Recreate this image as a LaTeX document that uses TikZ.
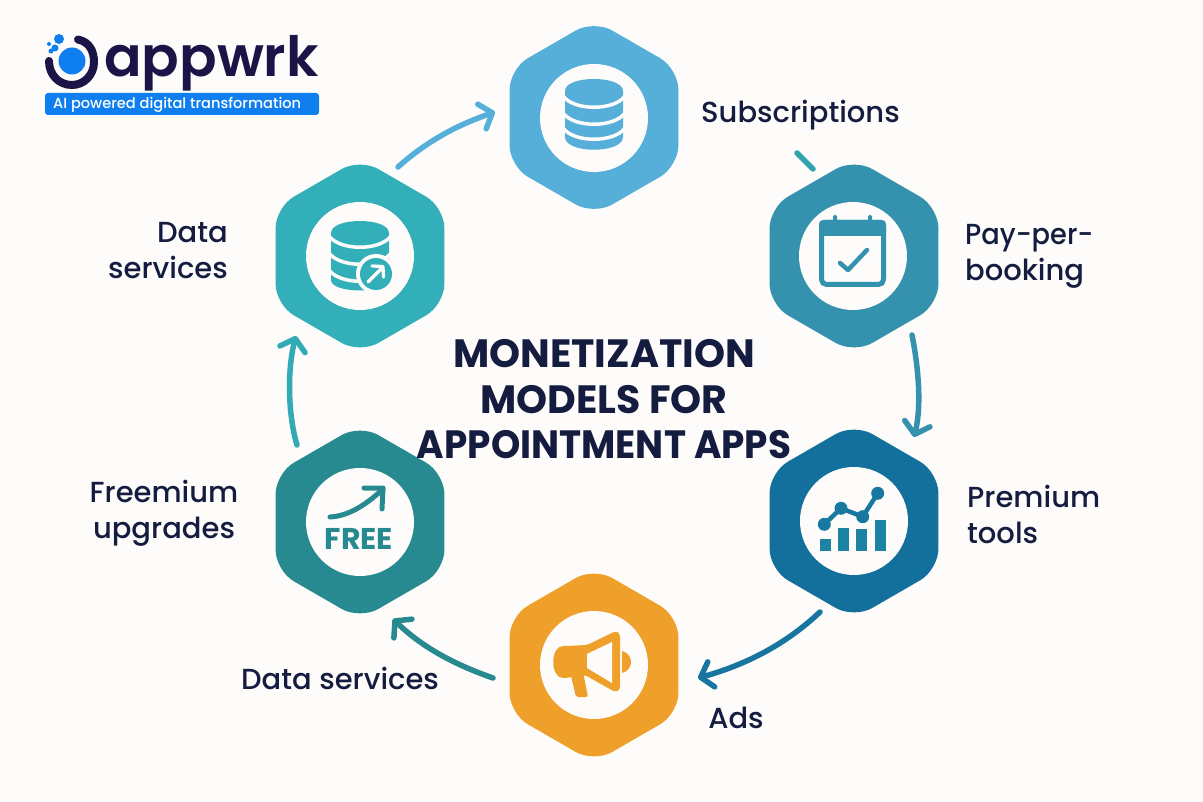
\documentclass[tikz,border=0pt]{standalone}
\usepackage{fontspec}
\setmainfont{Poppins}[UprightFont=* Medium,BoldFont=* Bold]
\newfontfamily\logofont{Poppins}[UprightFont=* SemiBold]
\usetikzlibrary{shapes.geometric,arrows.meta}
\definecolor{bgc}{HTML}{FDFCFA}
\definecolor{ink}{HTML}{141C3F}
\definecolor{cSub}{HTML}{55AFD9}
\definecolor{cPay}{HTML}{3592AE}
\definecolor{cPrem}{HTML}{13709C}
\definecolor{cAds}{HTML}{EFA02B}
\definecolor{cFree}{HTML}{288A91}
\definecolor{cData}{HTML}{33AFB9}
\definecolor{logoNavy}{HTML}{1B1447}
\definecolor{logoBlue}{HTML}{0F7FF0}
\tikzset{
  x=1pt,y=-1pt,
  hexa/.style={regular polygon,regular polygon sides=6,shape border rotate=30,minimum size=195pt,inner sep=0pt,outer sep=0pt,rounded corners=21pt,draw=none},
  disc/.style={circle,fill=bgc,minimum size=108pt,inner sep=0pt,outer sep=0pt,draw=none},
  lbl/.style={text=ink,font=\fontsize{29}{36}\selectfont,inner sep=0pt},
  ttl/.style={text=ink,font=\fontsize{39.5}{45.5}\bfseries\selectfont,inner sep=0pt,align=center},
  conn/.style={line width=5.5pt,line cap=round,line join=round,-{Straight Barb[round,length=11pt,width=26pt,line width=5.5pt]}},
  iconline/.style={line width=5pt,line cap=round,line join=round},
}
\begin{document}
\begin{tikzpicture}
\useasboundingbox (0,0) rectangle (1203,802);
\fill[bgc] (0,0) rectangle (1203,802);
% hexagons
\node[hexa,fill=cSub]  (sub)  at (594,117.5) {};
\node[hexa,fill=cPay]  (pay)  at (854,256) {};
\node[hexa,fill=cPrem] (prem) at (854,521) {};
\node[hexa,fill=cAds]  (ads)  at (594,665) {};
\node[hexa,fill=cFree] (free) at (360,522) {};
\node[hexa,fill=cData] (data) at (360,256) {};
\node[disc] (dsub)  at (594,118) {};
\node[disc] (dpay)  at (853,256) {};
\node[disc] (dprem) at (854,521) {};
\node[disc] (dads)  at (594,665) {};
\node[disc] (dfree) at (360,522) {};
\node[disc] (ddata) at (360,256) {};
% connectors
\coordinate (a1) at (398,167); \coordinate (a2) at (495,112);
\coordinate (t1) at (797,153); \coordinate (t2) at (813,169);
\coordinate (b1) at (912,335); \coordinate (b2) at (914,437);
\coordinate (c1) at (820,612); \coordinate (c2) at (698,678);
\coordinate (d1) at (493,678); \coordinate (d2) at (393,619);
\coordinate (e1) at (297,445); \coordinate (e2) at (296,336);
\draw[conn,color=cSub] (a1) .. controls (428,140) and (460,124) .. (a2);
\draw[line width=5.5pt,line cap=round,color=cData!70!cFree] (t1) -- (t2);
\draw[conn,color=cPay] (b1) .. controls (918,365) and (922,405) .. (b2);
\draw[conn,color=cPrem!85!cPay] (c1) .. controls (785,645) and (745,665) .. (c2);
\draw[conn,color=cFree] (d1) .. controls (450,663) and (420,645) .. (d2);
\draw[conn,color=cData!85!cPay] (e1) .. controls (288,415) and (287,370) .. (e2);
% database icon top
\begin{scope}[shift={(594,118)}]
  \fill[cSub] (-29,-27) -- (-29,19) .. controls (-29,36) and (29,36) .. (29,19) -- (29,-27) .. controls (29,-43) and (-29,-43) .. (-29,-27) -- cycle;
  \foreach \yy in {-22,-5,10}{
    \draw[bgc,line width=3.5pt] (-31,\yy) .. controls (-20,\yy+15) and (20,\yy+15) .. (31,\yy);
  }
\end{scope}
% database icon data services
\begin{scope}[shift={(360,256)}]
  \fill[cData] (-29,-23) -- (-29,24) .. controls (-29,38) and (29,38) .. (29,24) -- (29,-23) .. controls (29,-39) and (-29,-39) .. (-29,-23) -- cycle;
  \foreach \yy in {-20,-3,14}{
    \draw[bgc,line width=3.5pt] (-31,\yy) .. controls (-20,\yy+15) and (20,\yy+15) .. (31,\yy);
  }
  \fill[bgc] (16,18) circle[radius=20pt];
  \fill[cData] (16,18) circle[radius=16pt];
  \draw[bgc,line width=3.2pt,line cap=round,line join=round] (8,26) -- (23,11) (12,10) -- (23,10.5) -- (23.5,21);
\end{scope}
% calendar
\fill[cPay,rounded corners=1.5pt] (833,215) rectangle (837,226);
\fill[cPay,rounded corners=1.5pt] (868,215) rectangle (872,226);
\draw[cPay,line width=5pt,rounded corners=5pt] (821.5,222.5) rectangle (883.5,284.5);
\fill[cPay,rounded corners=4pt] (819,220) -- (886,220) -- (886,236) -- (819,236) -- cycle;
\draw[iconline,cPay,line width=4.5pt] (840,263) -- (848,270) -- (867,250);
% chart
\fill[cPrem!70!cData] (820,539) rectangle (830.7,550.7);
\fill[cPrem!70!cData] (837.7,528) rectangle (849,550.7);
\fill[cPrem!70!cData] (856,529) rectangle (867.3,550.7);
\fill[cPrem!70!cData] (875,520) rectangle (885.7,550.7);
\draw[cPrem!85!cData,line width=4.5pt,line join=round] (824.3,524.3) -- (841,508.3) -- (862.7,516.7) -- (877.7,493.3);
\foreach \px/\py in {824.3/524.3,841/508.3,862.7/516.7,877.7/493.3}{
  \fill[cPrem!85!cData] (\px,\py) circle[radius=6.5pt];
}
% megaphone
\fill[cAds,rounded corners=2pt] (571,676) -- (576,697) -- (588,697) -- (583,672) -- cycle;
\fill[cAds,rounded corners=3pt] (616,631) -- (620,634) -- (620,690) -- (615,692) -- (585,675) -- (566,678)
  .. controls (550,678) and (550,646) .. (566,646) -- (587,645) -- cycle;
\fill[bgc] (587,654) -- (612,642) -- (612,683) -- (587,668) -- cycle;
\fill[cAds] (622,651) .. controls (634,654) and (634,670) .. (622,673) -- cycle;
% FREE
\node[text=cFree,font=\fontsize{30}{30}\bfseries\selectfont,inner sep=0pt] (freetxt) at (359,538.5) {FREE};
\coordinate (f1) at (330,517); \coordinate (f2) at (383,489);
\draw[iconline,cFree] (f1) .. controls (350,516) and (368,503) .. (f2);
\draw[iconline,cFree] (364,488) -- (383,488) -- (382,509);
% labels
\node[lbl,anchor=west] (lsub) at (701,115) {Subscriptions};
\node[lbl,align=left,anchor=north west] (lpay) at (965,224.5) {\scalebox{0.94}[1]{Pay-per-}\\booking};
\node[lbl,align=left,anchor=north west] (lprem) at (967,485) {Premium\\tools};
\node[lbl] (lads) at (736,718) {Ads};
\node[lbl] (lds) at (340,678) {Data services};
\node[lbl,align=center] (lfree) at (164,513) {Freemium\\upgrades};
\node[lbl,align=right] (ldata) at (168,251) {Data\\services};
\node[ttl] (title) at (604,399.5) {MONETIZATION\\MODELS FOR\\\scalebox{0.945}[1]{APPOINTMENT APPS}};
% logo
\draw[logoNavy,line width=8pt,line cap=round] (78,39.5) .. controls (90,42) and (94,52) .. (94,62)
  .. controls (94,75) and (84,85) .. (72,85) .. controls (59,85) and (49,75) .. (49,61);
\fill[logoBlue] (72,61) circle[radius=13.5pt];
\fill[logoBlue] (59,39) circle[radius=5pt];
\fill[logoBlue] (55,48) circle[radius=3.5pt];
\fill[logoBlue] (49,44) circle[radius=2pt];
\fill[logoBlue] (51,51) circle[radius=2.5pt];
\node[text=logoNavy,font=\logofont\fontsize{55.5}{56}\selectfont,anchor=base west,inner sep=0pt] (logotext) at (104,77) {appwrk};
\fill[logoBlue,rounded corners=3pt] (45,93) rectangle (319,115);
\node[text=white,font=\fontsize{14.6}{15}\selectfont,anchor=west,inner sep=0pt] (tag) at (53,104.5) {AI powered digital transformation};
\end{tikzpicture}
\end{document}
